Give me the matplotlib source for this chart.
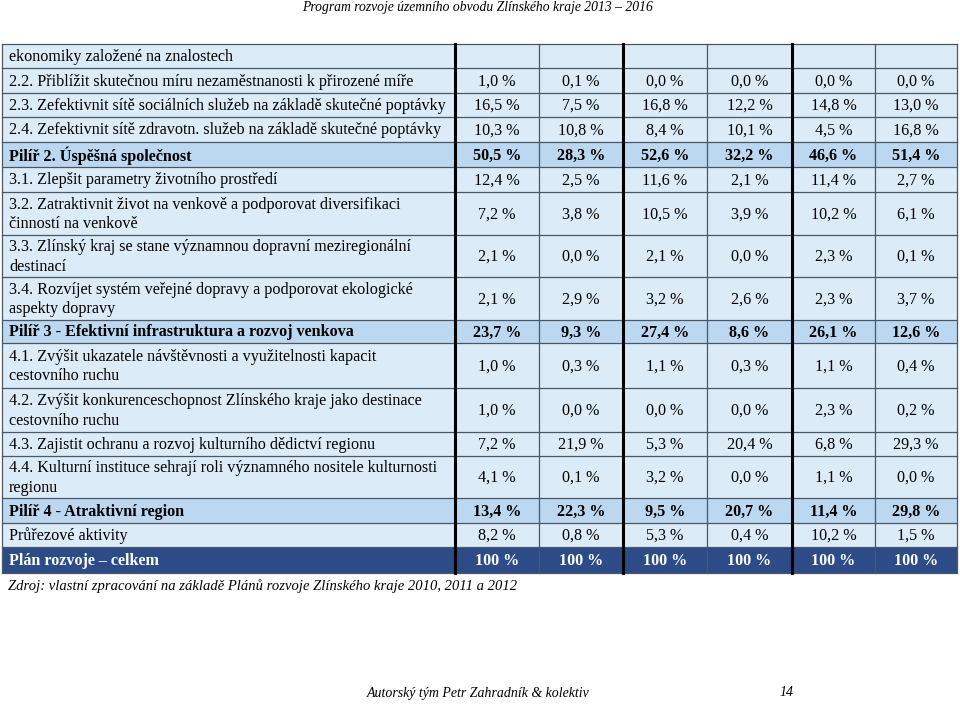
import matplotlib.pyplot as plt
from matplotlib.patches import Rectangle

plt.rcParams['font.family'] = ['Liberation Serif', 'DejaVu Serif']

# row labels
labels = [
    "ekonomiky založené na znalostech",
    "2.2. Přiblížit skutečnou míru nezaměstnanosti k přirozené míře",
    "2.3. Zefektivnit sítě sociálních služeb na základě skutečné poptávky",
    "2.4. Zefektivnit sítě zdravotn. služeb na základě skutečné poptávky",
    "Pilíř 2. Úspěšná společnost",
    "3.1. Zlepšit parametry životního prostředí",
    "3.2. Zatraktivnit život na venkově a podporovat diversifikaci\nčinností na venkově",
    "3.3. Zlínský kraj se stane významnou dopravní meziregionální\ndestinací",
    "3.4. Rozvíjet systém veřejné dopravy a podporovat ekologické\naspekty dopravy",
    "Pilíř 3 - Efektivní infrastruktura a rozvoj venkova",
    "4.1. Zvýšit ukazatele návštěvnosti a využitelnosti kapacit\ncestovního ruchu",
    "4.2. Zvýšit konkurenceschopnost Zlínského kraje jako destinace\ncestovního ruchu",
    "4.3. Zajistit ochranu a rozvoj kulturního dědictví regionu",
    "4.4. Kulturní instituce sehrají roli významného nositele kulturnosti\nregionu",
    "Pilíř 4 - Atraktivní region",
    "Průřezové aktivity",
    "Plán rozvoje – celkem",
]

# values (%) per column
col1 = [None, 1.0, 16.5, 10.3, 50.5, 12.4, 7.2, 2.1, 2.1, 23.7, 1.0, 1.0, 7.2, 4.1, 13.4, 8.2, 100]
col2 = [None, 0.1, 7.5, 10.8, 28.3, 2.5, 3.8, 0.0, 2.9, 9.3, 0.3, 0.0, 21.9, 0.1, 22.3, 0.8, 100]
col3 = [None, 0.0, 16.8, 8.4, 52.6, 11.6, 10.5, 2.1, 3.2, 27.4, 1.1, 0.0, 5.3, 3.2, 9.5, 5.3, 100]
col4 = [None, 0.0, 12.2, 10.1, 32.2, 2.1, 3.9, 0.0, 2.6, 8.6, 0.3, 0.0, 20.4, 0.0, 20.7, 0.4, 100]
col5 = [None, 0.0, 14.8, 4.5, 46.6, 11.4, 10.2, 2.3, 2.3, 26.1, 1.1, 2.3, 6.8, 1.1, 11.4, 10.2, 100]
col6 = [None, 0.0, 13.0, 16.8, 51.4, 2.7, 6.1, 0.1, 3.7, 12.6, 0.4, 0.2, 29.3, 0.0, 29.8, 1.5, 100]
columns = [col1, col2, col3, col4, col5, col6]

pilir_rows = [4, 9, 14]
total_row = 16

header = "Program rozvoje územního obvodu Zlínského kraje 2013 – 2016"
source = "Zdroj: vlastní zpracování na základě Plánů rozvoje Zlínského kraje 2010, 2011 a 2012"
footer = "Autorský tým Petr Zahradník & kolektiv"
page = "14"

# layout (pixels)
row_edges = [44, 68, 93, 117, 142, 167, 192, 235, 277, 320, 343, 388, 432, 456, 498, 523, 547, 573]
col_edges = [2, 455, 539, 623, 707, 792, 875, 957]

fig = plt.figure(figsize=(9.6, 7.04), dpi=100)
ax = fig.add_axes([0, 0, 1, 1])
ax.set_xlim(0, 960)
ax.set_ylim(704, 0)
ax.axis('off')

light = '#dcebf8'
mid = '#bcd8f1'
dark = '#2d4b86'
fs = 11.6

def fmt(v):
    if v is None:
        return ""
    if v == 100:
        return "100 %"
    return f"{v:.1f}".replace('.', ',') + " %"

for i, lab in enumerate(labels):
    y0, y1 = row_edges[i], row_edges[i + 1]
    if i == total_row:
        bg, color, weight = dark, 'white', 'bold'
    elif i in pilir_rows:
        bg, color, weight = mid, 'black', 'bold'
    else:
        bg, color, weight = light, 'black', 'normal'
    ax.add_patch(Rectangle((col_edges[0], y0), col_edges[-1] - col_edges[0], y1 - y0,
                           facecolor=bg, edgecolor='none'))
    yc = (y0 + y1) / 2
    ax.text(col_edges[0] + 7, yc + 1, lab, ha='left', va='center', fontsize=fs,
            color=color, fontweight=weight, linespacing=1.3)
    for j, col in enumerate(columns):
        xc = (col_edges[j + 1] + col_edges[j + 2]) / 2
        ax.text(xc, yc + 1, fmt(col[i]), ha='center', va='center', fontsize=fs,
                color=color, fontweight=weight)

# grid lines
for y in row_edges:
    ax.plot([col_edges[0], col_edges[-1]], [y, y], color='#4a5866', lw=0.9)
for k, x in enumerate(col_edges):
    thick = k in (1, 3, 5)
    ax.plot([x, x], [row_edges[0], row_edges[-1]],
            color='black' if thick else '#4a5866', lw=2.2 if thick else 0.9)

ax.text(478, 8, header, ha='center', va='center', fontsize=9.8, style='italic')
ax.text(8, 586, source, ha='left', va='center', fontsize=10.5, style='italic')
ax.text(478, 693, footer, ha='center', va='center', fontsize=10, style='italic')
ax.text(786, 693, page, ha='center', va='center', fontsize=10, style='italic')

fig.savefig('out.png', dpi=100, facecolor='white')
